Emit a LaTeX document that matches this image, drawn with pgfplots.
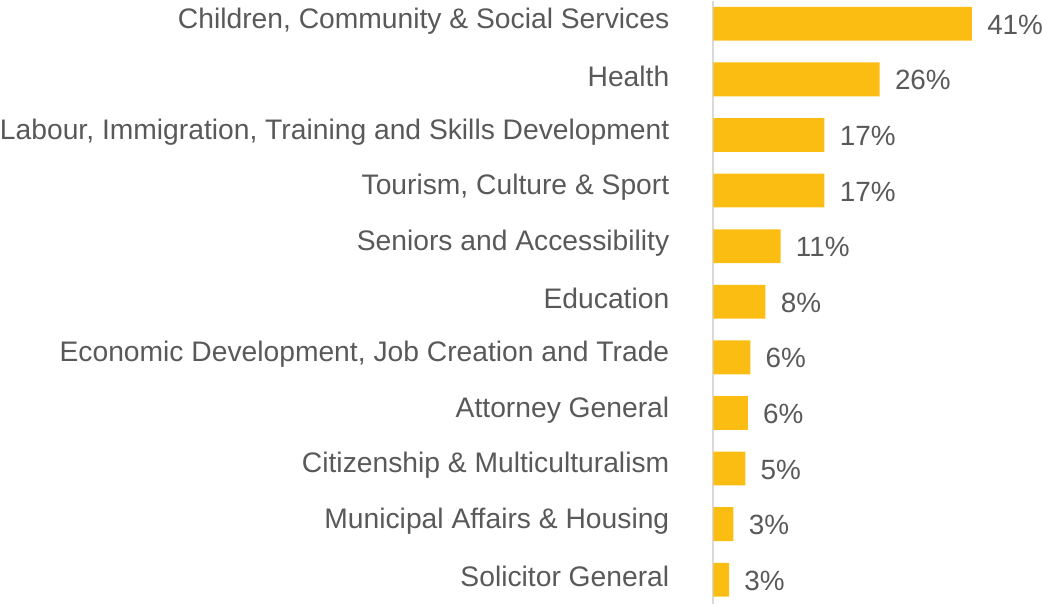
\documentclass[border=0pt]{standalone}
\usepackage{fontspec}
\setmainfont{Liberation Sans}
\usepackage{pgfplots}
\usepackage{pgfplotstable}
\pgfplotsset{compat=1.18}
\definecolor{bargold}{RGB}{252,189,19}
\definecolor{txtgray}{RGB}{89,89,89}
\definecolor{axgray}{RGB}{217,217,217}
\pgfplotstableread[col sep=comma]{
idx,val,lab
0,41.2,41\%
1,26.5,26\%
2,17.7,17\%
3,17.7,17\%
4,10.7,11\%
5,8.3,8\%
6,5.9,6\%
7,5.5,6\%
8,5.1,5\%
9,3.2,3\%
10,2.5,3\%
}\datatable
\begin{document}
\begin{tikzpicture}
\begin{axis}[
  scale only axis,
  width=165.5pt, height=303pt,
  xbar, bar width=17pt,
  xmin=0, xmax=52.46,
  ymin=-0.41, ymax=10.43,
  y dir=reverse,
  axis x line=none,
  axis y line*=left,
  y axis line style={draw=axgray, line width=1pt, -},
  ytick={0,...,10},
  yticklabels={
    {Children, Community \& Social Services},
    {Health},
    {Labour, Immigration, Training and Skills Development},
    {Tourism, Culture \& Sport},
    {Seniors and Accessibility},
    {Education},
    {Economic Development, Job Creation and Trade},
    {Attorney General},
    {Citizenship \& Multiculturalism},
    {Municipal Affairs \& Housing},
    {Solicitor General}},
  major tick length=0pt,
  yticklabel style={font=\fontsize{14.2}{16}\selectfont, text=txtgray, anchor=east, inner sep=0pt, xshift=-22pt, yshift=1.5pt},
  nodes near coords,
  point meta=explicit symbolic,
  nodes near coords style={font=\fontsize{14}{16}\selectfont, text=txtgray, anchor=west, inner sep=0pt, xshift=7.5pt, yshift=-0.5pt},
  clip=false,
]
\addplot[fill=bargold, draw=none] table[x=val, y=idx, meta=lab, col sep=comma] {\datatable};
\end{axis}
\end{tikzpicture}
\end{document}
